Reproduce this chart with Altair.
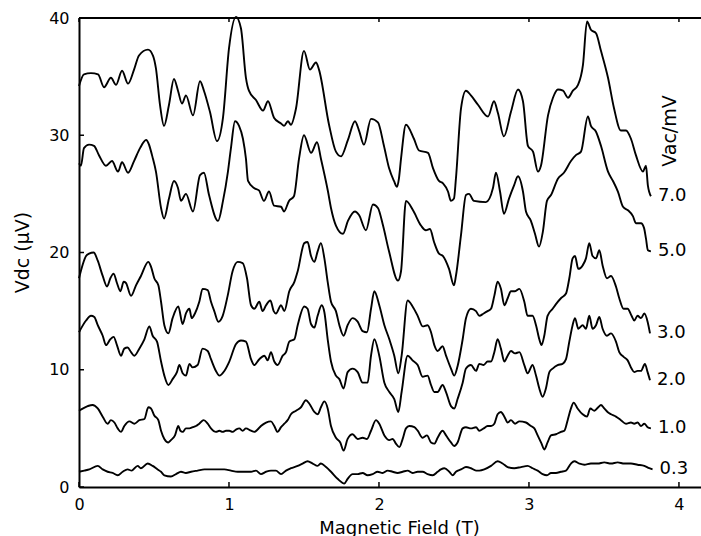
import altair as alt
import pandas as pd

FIELD_TICKS = [0, 1, 2, 3, 4]
VDC_TICKS = [0, 10, 20, 30, 40]
X_TITLE = "Magnetic Field (T)"
Y_TITLE = "Vdc (µV)"
LEGEND_TITLE = "Vac/mV"

# (field T, Vdc µV)
curve_7_0 = [(0.0, 34.2), (0.033, 35.2), (0.08, 35.3), (0.127, 35.2), (0.167, 34.1), (0.213, 34.9),
             (0.247, 34.3), (0.287, 35.5), (0.327, 34.4), (0.367, 35.6), (0.40, 36.8), (0.46, 37.3),
             (0.493, 36.8), (0.513, 35.7), (0.54, 32.6), (0.567, 30.8), (0.60, 32.6), (0.633, 34.8),
             (0.66, 33.8), (0.687, 32.7), (0.713, 33.4), (0.76, 31.7), (0.807, 34.6), (0.833, 33.8),
             (0.873, 32.0), (0.92, 29.5), (0.96, 31.5), (1.00, 37.4), (1.047, 40.1), (1.08, 39.1),
             (1.113, 34.9), (1.133, 33.8), (1.18, 33.0), (1.227, 32.1), (1.26, 32.9), (1.30, 31.5),
             (1.347, 31.0), (1.367, 30.8), (1.393, 31.2), (1.413, 30.9), (1.447, 32.3), (1.50, 37.2),
             (1.54, 35.6), (1.58, 36.2), (1.60, 35.6), (1.667, 30.9), (1.713, 28.6), (1.747, 28.2),
             (1.793, 29.6), (1.84, 31.2), (1.867, 30.4), (1.90, 29.2), (1.947, 31.4), (1.993, 31.1),
             (2.033, 29.1), (2.067, 27.2), (2.10, 26.1), (2.12, 25.6), (2.133, 26.3), (2.147, 28.0),
             (2.18, 30.9), (2.233, 29.7), (2.267, 28.7), (2.327, 28.5), (2.36, 27.2), (2.40, 26.1),
             (2.427, 25.9), (2.46, 25.2), (2.48, 24.4), (2.50, 24.6), (2.513, 26.3), (2.547, 32.3),
             (2.58, 33.8), (2.613, 33.4), (2.66, 32.6), (2.727, 31.6), (2.767, 32.9), (2.793, 31.9),
             (2.833, 29.9), (2.88, 32.0), (2.927, 33.9), (2.96, 32.9), (2.993, 29.1), (3.027, 28.6),
             (3.06, 26.9), (3.08, 27.4), (3.127, 31.7), (3.16, 33.2), (3.193, 33.9), (3.227, 33.8),
             (3.26, 33.2), (3.293, 33.8), (3.327, 34.3), (3.36, 36.0), (3.387, 39.7), (3.413, 39.0),
             (3.447, 38.7), (3.48, 37.2), (3.527, 34.9), (3.567, 32.3), (3.613, 30.4), (3.647, 30.4),
             (3.68, 29.7), (3.713, 28.3), (3.76, 26.9), (3.78, 27.4), (3.793, 25.7), (3.813, 24.8)]

curve_5_0 = [(0.0, 27.6), (0.013, 27.4), (0.033, 28.9), (0.067, 29.2), (0.10, 29.1), (0.133, 28.3),
             (0.18, 27.4), (0.22, 27.8), (0.26, 26.9), (0.287, 27.7), (0.327, 26.8), (0.367, 27.8),
             (0.407, 28.9), (0.447, 29.6), (0.493, 28.0), (0.513, 26.9), (0.547, 23.8), (0.567, 22.9),
             (0.60, 24.6), (0.633, 26.1), (0.66, 25.5), (0.68, 24.4), (0.713, 25.0), (0.76, 23.5),
             (0.807, 26.6), (0.833, 26.8), (0.867, 24.9), (0.927, 22.7), (0.96, 24.4), (0.993, 26.9),
             (1.013, 28.9), (1.04, 31.2), (1.067, 30.8), (1.093, 29.7), (1.113, 28.0), (1.127, 26.1),
             (1.167, 25.5), (1.20, 25.3), (1.233, 24.4), (1.267, 25.2), (1.30, 24.0), (1.347, 23.9),
             (1.367, 23.5), (1.40, 24.4), (1.433, 24.8), (1.467, 28.0), (1.50, 30.0), (1.547, 28.5),
             (1.587, 29.4), (1.613, 28.0), (1.66, 25.2), (1.68, 23.8), (1.713, 22.3), (1.76, 21.6),
             (1.793, 22.7), (1.84, 23.5), (1.867, 23.2), (1.913, 21.9), (1.96, 24.1), (1.993, 23.8),
             (2.027, 22.3), (2.067, 20.1), (2.127, 17.6), (2.147, 18.4), (2.18, 24.4), (2.227, 23.6),
             (2.28, 22.3), (2.313, 21.9), (2.34, 22.0), (2.367, 20.9), (2.40, 19.9), (2.427, 19.7),
             (2.467, 18.6), (2.50, 17.2), (2.513, 18.0), (2.547, 21.5), (2.58, 24.9), (2.60, 25.0),
             (2.633, 24.4), (2.713, 24.3), (2.76, 25.5), (2.78, 26.8), (2.807, 25.2), (2.833, 23.3),
             (2.867, 24.6), (2.90, 25.7), (2.927, 26.5), (2.96, 25.2), (2.98, 23.5), (3.013, 22.7),
             (3.04, 21.6), (3.067, 20.5), (3.093, 21.8), (3.12, 24.4), (3.147, 24.9), (3.193, 26.3),
             (3.233, 26.8), (3.28, 27.8), (3.313, 28.3), (3.347, 28.6), (3.393, 31.6), (3.413, 30.8),
             (3.447, 30.3), (3.48, 29.1), (3.527, 26.9), (3.56, 26.1), (3.593, 25.2), (3.627, 23.9),
             (3.66, 23.6), (3.693, 23.1), (3.713, 22.5), (3.747, 22.5), (3.767, 22.1), (3.78, 21.2),
             (3.793, 20.2), (3.813, 20.1)]

curve_3_0 = [(0.0, 17.8), (0.047, 19.7), (0.067, 19.9), (0.098, 20.0), (0.125, 19.3), (0.158, 18.0),
             (0.187, 17.1), (0.209, 17.8), (0.231, 18.2), (0.253, 17.4), (0.276, 16.7), (0.298, 17.5),
             (0.313, 17.4), (0.347, 16.3), (0.38, 17.2), (0.413, 18.0), (0.462, 19.2), (0.48, 18.8),
             (0.502, 17.8), (0.529, 17.2), (0.547, 15.8), (0.569, 13.8), (0.596, 13.1), (0.624, 14.4),
             (0.662, 15.4), (0.691, 13.9), (0.713, 14.8), (0.736, 15.2), (0.751, 14.4), (0.773, 14.8),
             (0.802, 15.8), (0.824, 16.9), (0.858, 16.8), (0.88, 15.8), (0.902, 15.0), (0.929, 14.1),
             (0.958, 14.6), (0.991, 16.3), (1.024, 18.4), (1.058, 19.2), (1.091, 19.1), (1.12, 17.8),
             (1.147, 15.5), (1.169, 15.2), (1.202, 15.8), (1.224, 15.0), (1.247, 15.5), (1.276, 15.9),
             (1.298, 15.0), (1.313, 14.8), (1.347, 15.5), (1.369, 15.0), (1.402, 16.7), (1.436, 17.5),
             (1.458, 18.4), (1.502, 20.8), (1.524, 20.9), (1.547, 19.7), (1.569, 19.2), (1.591, 20.1),
             (1.613, 20.8), (1.636, 19.5), (1.658, 17.5), (1.68, 15.8), (1.713, 15.0), (1.736, 13.8),
             (1.764, 12.9), (1.791, 13.8), (1.824, 14.4), (1.858, 14.1), (1.891, 13.3), (1.92, 13.2),
             (1.947, 15.2), (1.969, 16.7), (2.002, 15.5), (2.036, 13.8), (2.069, 12.6), (2.102, 11.2),
             (2.129, 9.7), (2.151, 11.2), (2.191, 15.9), (2.224, 15.4), (2.258, 14.6), (2.291, 13.7),
             (2.324, 13.8), (2.347, 13.2), (2.369, 12.1), (2.391, 11.6), (2.424, 12.0), (2.447, 11.2),
             (2.48, 10.1), (2.502, 9.5), (2.524, 10.3), (2.558, 12.6), (2.58, 14.4), (2.613, 15.2),
             (2.647, 15.0), (2.669, 14.6), (2.698, 14.8), (2.724, 15.0), (2.747, 15.2), (2.769, 16.3),
             (2.791, 17.5), (2.813, 16.9), (2.836, 15.5), (2.858, 16.1), (2.88, 16.7), (2.907, 16.7),
             (2.936, 16.9), (2.969, 15.8), (2.991, 14.6), (3.024, 14.6), (3.047, 13.8), (3.069, 12.6),
             (3.084, 12.1), (3.102, 12.9), (3.124, 14.6), (3.158, 15.2), (3.18, 15.6), (3.213, 16.1),
             (3.247, 16.5), (3.269, 17.8), (3.291, 19.5), (3.307, 19.7), (3.329, 18.6), (3.358, 18.9),
             (3.38, 19.5), (3.402, 20.8), (3.424, 19.7), (3.447, 19.5), (3.469, 20.2), (3.491, 18.9),
             (3.52, 17.8), (3.547, 18.0), (3.58, 17.1), (3.602, 16.1), (3.631, 15.2), (3.658, 15.2),
             (3.684, 14.6), (3.702, 14.2), (3.724, 14.6), (3.747, 14.4), (3.769, 14.8), (3.791, 14.1),
             (3.807, 13.1)]

curve_2_0 = [(0.0, 13.2), (0.047, 14.2), (0.08, 14.6), (0.102, 14.5), (0.125, 13.8), (0.158, 12.9),
             (0.18, 12.1), (0.209, 12.6), (0.231, 12.8), (0.253, 12.1), (0.28, 11.2), (0.302, 11.8),
             (0.324, 11.9), (0.347, 11.5), (0.369, 11.2), (0.402, 11.8), (0.436, 12.6), (0.469, 13.7),
             (0.491, 12.9), (0.52, 12.4), (0.547, 10.7), (0.569, 9.5), (0.596, 8.7), (0.624, 9.2),
             (0.653, 9.8), (0.669, 10.4), (0.691, 9.7), (0.713, 9.5), (0.736, 10.5), (0.758, 10.2),
             (0.791, 10.4), (0.824, 11.8), (0.858, 11.6), (0.88, 10.9), (0.913, 9.9), (0.936, 9.5),
             (0.969, 9.9), (1.002, 10.7), (1.047, 12.2), (1.08, 12.5), (1.113, 12.4), (1.147, 10.9),
             (1.169, 10.4), (1.202, 10.9), (1.236, 11.2), (1.258, 10.8), (1.28, 11.5), (1.302, 10.7),
             (1.324, 10.4), (1.358, 11.2), (1.38, 11.5), (1.402, 12.4), (1.436, 12.6), (1.458, 13.8),
             (1.502, 15.4), (1.524, 15.2), (1.547, 13.9), (1.569, 13.6), (1.591, 14.6), (1.618, 15.5),
             (1.636, 14.9), (1.658, 12.6), (1.68, 10.7), (1.713, 9.5), (1.736, 9.2), (1.764, 8.4),
             (1.791, 9.8), (1.824, 10.1), (1.858, 9.8), (1.891, 8.9), (1.924, 8.9), (1.947, 11.2),
             (1.969, 12.6), (2.002, 11.2), (2.036, 8.9), (2.069, 8.1), (2.102, 7.5), (2.129, 6.4),
             (2.151, 8.1), (2.191, 11.2), (2.224, 10.8), (2.258, 10.4), (2.291, 9.4), (2.324, 9.5),
             (2.347, 8.7), (2.369, 8.1), (2.391, 8.1), (2.424, 8.7), (2.447, 8.1), (2.48, 6.9),
             (2.502, 6.7), (2.524, 7.5), (2.558, 8.9), (2.58, 10.1), (2.613, 10.4), (2.647, 9.9),
             (2.669, 10.5), (2.698, 10.4), (2.724, 10.7), (2.747, 10.7), (2.769, 11.5), (2.791, 12.6),
             (2.813, 11.8), (2.836, 10.7), (2.858, 11.2), (2.88, 11.6), (2.907, 11.4), (2.936, 11.5),
             (2.969, 10.4), (2.991, 9.7), (3.024, 10.4), (3.047, 9.5), (3.069, 8.4), (3.091, 7.7),
             (3.113, 8.4), (3.136, 9.8), (3.158, 10.1), (3.191, 10.4), (3.224, 10.5), (3.247, 10.9),
             (3.269, 12.4), (3.291, 13.8), (3.307, 14.4), (3.329, 13.5), (3.358, 13.8), (3.38, 13.5),
             (3.402, 14.6), (3.424, 13.5), (3.447, 13.8), (3.469, 14.5), (3.491, 13.5), (3.52, 12.9),
             (3.547, 13.1), (3.58, 12.4), (3.602, 11.5), (3.631, 11.1), (3.658, 10.8), (3.684, 10.1),
             (3.702, 9.8), (3.724, 9.9), (3.747, 9.9), (3.773, 10.5), (3.791, 9.8), (3.807, 9.1)]

curve_1_0 = [(0.0, 6.5), (0.058, 6.9), (0.091, 7.0), (0.125, 6.7), (0.158, 6.0), (0.191, 5.4),
             (0.213, 5.7), (0.236, 5.5), (0.258, 5.0), (0.28, 4.7), (0.302, 5.2), (0.336, 5.6),
             (0.369, 5.4), (0.402, 5.7), (0.436, 5.8), (0.462, 6.8), (0.48, 6.7), (0.502, 6.1),
             (0.529, 5.7), (0.547, 4.8), (0.569, 4.1), (0.596, 3.8), (0.613, 4.0), (0.64, 4.4),
             (0.662, 5.2), (0.676, 4.8), (0.691, 4.7), (0.713, 5.0), (0.736, 5.0), (0.758, 5.1),
             (0.78, 5.2), (0.802, 5.4), (0.831, 5.7), (0.858, 5.4), (0.88, 5.0), (0.913, 4.7),
             (0.936, 4.8), (0.958, 4.7), (0.98, 4.8), (1.002, 4.8), (1.024, 4.7), (1.047, 4.9),
             (1.069, 5.0), (1.091, 4.8), (1.113, 5.0), (1.147, 4.8), (1.169, 4.7), (1.191, 4.9),
             (1.213, 5.2), (1.247, 5.5), (1.28, 5.6), (1.302, 5.2), (1.324, 4.7), (1.347, 5.1),
             (1.369, 5.4), (1.391, 5.7), (1.413, 6.2), (1.447, 6.5), (1.48, 6.8), (1.513, 7.4),
             (1.536, 7.1), (1.569, 6.4), (1.591, 6.2), (1.613, 6.8), (1.636, 7.3), (1.658, 6.7),
             (1.68, 5.2), (1.713, 4.2), (1.742, 3.8), (1.764, 3.1), (1.791, 4.1), (1.824, 4.5),
             (1.858, 4.1), (1.891, 4.2), (1.92, 4.1), (1.947, 4.8), (1.98, 5.7), (2.002, 5.4),
             (2.036, 4.4), (2.069, 4.0), (2.091, 4.1), (2.113, 3.7), (2.136, 3.4), (2.158, 4.1),
             (2.18, 5.0), (2.202, 5.2), (2.236, 5.1), (2.258, 4.8), (2.291, 4.2), (2.32, 4.4),
             (2.347, 3.8), (2.369, 3.7), (2.391, 4.2), (2.424, 4.8), (2.447, 4.4), (2.48, 3.8),
             (2.502, 3.5), (2.524, 3.8), (2.558, 5.0), (2.58, 5.1), (2.613, 5.0), (2.647, 5.1),
             (2.669, 4.8), (2.698, 5.0), (2.724, 5.2), (2.747, 5.2), (2.769, 5.4), (2.791, 6.2),
             (2.813, 6.4), (2.836, 6.0), (2.858, 5.5), (2.88, 5.7), (2.907, 5.4), (2.936, 5.6),
             (2.98, 5.5), (3.013, 5.2), (3.036, 5.0), (3.058, 4.4), (3.084, 3.7), (3.102, 3.2),
             (3.124, 3.8), (3.147, 4.4), (3.18, 4.5), (3.213, 4.7), (3.236, 4.8), (3.258, 5.7),
             (3.28, 6.7), (3.298, 7.2), (3.324, 6.7), (3.358, 6.2), (3.387, 6.0), (3.409, 6.7),
             (3.436, 6.5), (3.462, 6.8), (3.48, 7.0), (3.502, 6.7), (3.524, 6.4), (3.547, 6.2),
             (3.58, 6.0), (3.613, 5.7), (3.647, 5.4), (3.68, 5.5), (3.702, 5.4), (3.724, 5.5),
             (3.747, 5.2), (3.769, 5.4), (3.791, 5.1), (3.813, 5.0)]

curve_0_3 = [(0.0, 1.3), (0.035, 1.4), (0.069, 1.5), (0.125, 1.8), (0.158, 1.5), (0.191, 1.3),
             (0.224, 1.2), (0.258, 1.0), (0.291, 1.3), (0.324, 1.5), (0.351, 1.4), (0.391, 1.8),
             (0.413, 1.6), (0.458, 2.0), (0.491, 1.8), (0.524, 1.5), (0.547, 1.3), (0.569, 1.0),
             (0.613, 0.9), (0.647, 1.1), (0.68, 1.3), (0.713, 1.2), (0.747, 1.3), (0.791, 1.4),
             (0.836, 1.5), (0.88, 1.5), (0.924, 1.5), (0.969, 1.5), (1.013, 1.4), (1.058, 1.3),
             (1.102, 1.3), (1.147, 1.3), (1.18, 1.4), (1.213, 1.1), (1.247, 1.3), (1.28, 1.4),
             (1.313, 1.4), (1.347, 1.1), (1.38, 1.4), (1.413, 1.6), (1.458, 1.8), (1.491, 2.0),
             (1.524, 2.2), (1.558, 2.0), (1.591, 1.8), (1.613, 2.0), (1.647, 1.7), (1.68, 1.3),
             (1.724, 0.7), (1.769, 0.3), (1.791, 0.7), (1.824, 1.1), (1.858, 1.1), (1.891, 1.2),
             (1.924, 1.0), (1.958, 1.1), (1.991, 1.3), (2.024, 1.2), (2.058, 1.4), (2.091, 1.3),
             (2.124, 1.2), (2.158, 1.3), (2.191, 1.4), (2.224, 1.2), (2.258, 1.3), (2.291, 1.3),
             (2.324, 1.1), (2.358, 1.0), (2.391, 1.3), (2.413, 1.5), (2.436, 1.6), (2.469, 1.3),
             (2.491, 1.0), (2.513, 1.3), (2.547, 1.5), (2.58, 1.7), (2.613, 1.6), (2.647, 1.4),
             (2.669, 1.4), (2.702, 1.5), (2.747, 1.8), (2.791, 2.2), (2.824, 2.0), (2.858, 1.7),
             (2.902, 1.6), (2.947, 1.7), (2.991, 1.8), (3.024, 1.6), (3.058, 1.4), (3.091, 1.1),
             (3.12, 1.0), (3.147, 1.2), (3.18, 1.2), (3.213, 1.3), (3.247, 1.4), (3.28, 2.0),
             (3.302, 2.2), (3.336, 2.0), (3.369, 1.9), (3.413, 2.0), (3.458, 2.0), (3.502, 2.1),
             (3.547, 2.0), (3.591, 2.1), (3.636, 2.0), (3.68, 2.0), (3.724, 1.9), (3.769, 1.8),
             (3.802, 1.6), (3.824, 1.5)]

SERIES = [("7.0", curve_7_0), ("5.0", curve_5_0), ("3.0", curve_3_0),
          ("2.0", curve_2_0), ("1.0", curve_1_0), ("0.3", curve_0_3)]

rows, ends = [], []
for name, pts in SERIES:
    for i, (bx, v) in enumerate(pts):
        rows.append({"series": name, "i": i, "field": bx, "vdc": v})
    ends.append({"series": name, "field": pts[-1][0], "vdc": pts[-1][1]})
df = pd.DataFrame(rows)
ends_df = pd.DataFrame(ends)

FONT = "DejaVu Sans"
W, H = 622, 469
xs = alt.Scale(domain=[0, 4.147], nice=False, zero=False)
ys = alt.Scale(domain=[0, 40], nice=False, zero=False)

x_axis = alt.Axis(values=FIELD_TICKS, format="d", ticks=False, tickSize=0, grid=False,
                  domainColor="black", domainWidth=2, labelColor="black", labelFont=FONT,
                  labelFontSize=16, labelPadding=9, labelFlush=False,
                  title=X_TITLE, titleFont=FONT, titleFontSize=18, titleFontWeight="normal",
                  titleColor="black", titleX=320, titleY=46, titleBaseline="alphabetic",
                  titleAlign="center")
y_axis = alt.Axis(values=VDC_TICKS, format="d", ticks=False, tickSize=0, grid=False,
                  domainColor="black", domainWidth=2, labelColor="black", labelFont=FONT,
                  labelFontSize=16, labelPadding=10, labelFlush=False,
                  title=Y_TITLE, titleFont=FONT, titleFontSize=19, titleFontWeight="normal",
                  titleColor="black", titleX=-57, titleY=234, titleAngle=270,
                  titleBaseline="middle", titleAlign="center")

X = alt.X("field:Q", scale=xs, axis=x_axis)
Y = alt.Y("vdc:Q", scale=ys, axis=y_axis)

lines = alt.Chart(df).mark_line(color="black", strokeWidth=1.9, strokeJoin="round",
                                interpolate="monotone").encode(
    x=X, y=Y, detail="series:N", order="i:Q")

labels = alt.Chart(ends_df).mark_text(align="left", baseline="middle", dx=7, font=FONT,
                                      fontSize=18, color="black").encode(
    x=X, y=Y, text="series:N")

top_line = alt.Chart(pd.DataFrame({"k": [0]})).mark_rule(color="black", strokeWidth=2).encode(
    x=alt.value(0), x2=alt.value(W), y=alt.value(0))

yt = pd.DataFrame({"vdc": VDC_TICKS})
y_ticks = alt.Chart(yt).mark_rule(color="black", strokeWidth=1.5).encode(
    y=Y, x=alt.value(0), x2=alt.value(5))

xt = pd.DataFrame({"field": FIELD_TICKS})
x_ticks_bottom = alt.Chart(xt).mark_rule(color="black", strokeWidth=1.5).encode(
    x=X, y=alt.value(H), y2=alt.value(H - 5))
x_ticks_top = alt.Chart(xt).mark_rule(color="black", strokeWidth=1.5).encode(
    x=X, y=alt.value(0), y2=alt.value(4))

legend_title = alt.Chart(pd.DataFrame({"t": [LEGEND_TITLE]})).mark_text(
    angle=270, align="center", baseline="middle", font=FONT, fontSize=19, color="black").encode(
    x=alt.value(591), y=alt.value(113), text="t:N")

chart = alt.layer(lines, labels, top_line, y_ticks, x_ticks_bottom, x_ticks_top, legend_title).properties(
    width=W, height=H,
    autosize=alt.AutoSizeParams(type="none"),
    padding={"left": 79, "top": 18, "right": 0, "bottom": 49},
    background="white",
).configure_view(stroke="transparent")

chart.save("out.html", embed_options={"renderer": "svg", "actions": False})
